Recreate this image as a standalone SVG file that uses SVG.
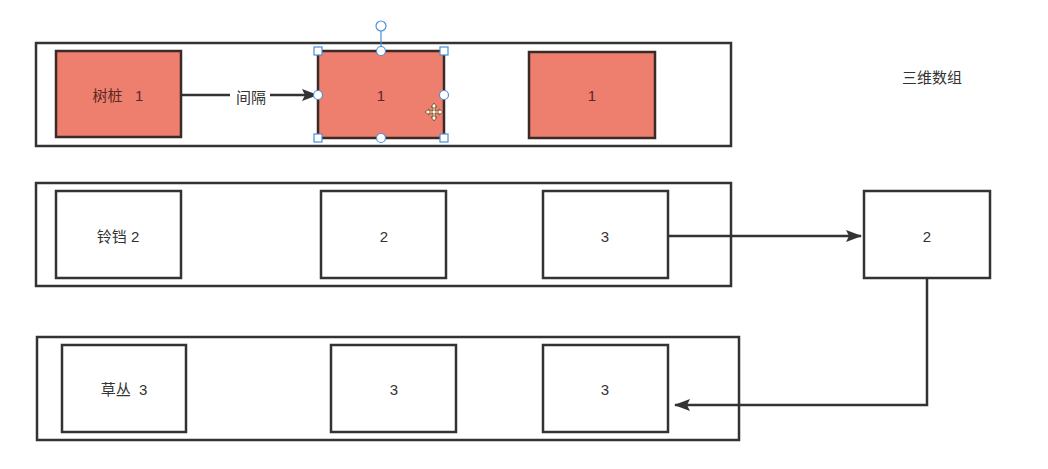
<svg xmlns="http://www.w3.org/2000/svg" width="1048" height="469" viewBox="0 0 1048 469">
<defs>
<style>
.cont{fill:#fff;stroke:#333;stroke-width:2.5}
.box{fill:#fff;stroke:#333;stroke-width:2.5}
.red{fill:#ee7e6e;stroke:#3a2a28;stroke-width:2.5}
.t{font-family:"Liberation Sans","Noto Sans CJK SC",sans-serif;font-size:15px;fill:#333;text-anchor:middle;dominant-baseline:central;white-space:pre}
.tr{fill:#5a2a24}
.edge{fill:none;stroke:#333;stroke-width:2.5}
.hs{fill:#fff;stroke:#4a90d9;stroke-width:1.2}
</style>
<marker id="ah" markerWidth="16" markerHeight="12" refX="15" refY="6" orient="auto" markerUnits="userSpaceOnUse" viewBox="0 0 16 12">
<path d="M0,0 L16,6 L0,12 L3,6 Z" fill="#333"/>
</marker>
</defs>
<rect width="1048" height="469" fill="#fff"/>
<g id="containers">
<rect id="row1" class="cont" x="36" y="43" width="695" height="103"/>
<rect id="row2" class="cont" x="36" y="183" width="695" height="103"/>
<rect id="row3" class="cont" x="37" y="337" width="702" height="103"/>
</g>
<g id="connectors">
<path class="edge" d="M181,95 H317" marker-end="url(#ah)"/>
<rect x="230" y="86" width="40" height="20" fill="#fff"/>
<text class="t" x="251" y="97">间隔</text>
<path class="edge" d="M668,236 H861" marker-end="url(#ah)"/>
<path class="edge" d="M927,279 V405 H675" marker-end="url(#ah)"/>
</g>
<g id="n-shuzhuang"><rect class="red" x="56" y="51" width="125" height="86"/><text class="t tr" x="118" y="95" xml:space="preserve">树桩   1</text></g>
<g id="n-r1c2"><rect class="red" x="318" y="51" width="126" height="87"/><text class="t tr" x="381" y="95">1</text></g>
<g id="n-r1c3"><rect class="red" x="529" y="52" width="126" height="86"/><text class="t tr" x="592" y="95">1</text></g>
<g id="selection">
<line x1="381" y1="31" x2="381" y2="51" stroke="#4a90d9" stroke-width="1.2"/>
<circle class="hs" cx="381" cy="26" r="5"/>
<rect class="hs" x="314" y="47" width="8" height="8"/>
<rect class="hs" x="440" y="47" width="8" height="8"/>
<rect class="hs" x="314" y="134" width="8" height="8"/>
<rect class="hs" x="440" y="134" width="8" height="8"/>
<circle class="hs" cx="381" cy="51" r="4.5"/>
<circle class="hs" cx="381" cy="138" r="4.5"/>
<circle class="hs" cx="318" cy="95" r="4.5"/>
<circle class="hs" cx="444" cy="95" r="4.5"/>
<g transform="translate(434,112)" fill="#fff" stroke="#7a5a2a" stroke-width="1">
<path d="M0,-9 L3,-5 L1,-5 L1,-1 L5,-1 L5,-3 L9,0 L5,3 L5,1 L1,1 L1,5 L3,5 L0,9 L-3,5 L-1,5 L-1,1 L-5,1 L-5,3 L-9,0 L-5,-3 L-5,-1 L-1,-1 L-1,-5 L-3,-5 Z"/>
</g>
</g>
<g id="n-lingdang"><rect class="box" x="56" y="191" width="125" height="87"/><text class="t" x="118" y="236">铃铛 2</text></g>
<g id="n-r2c2"><rect class="box" x="321" y="191" width="125" height="87"/><text class="t" x="384" y="236">2</text></g>
<g id="n-r2c3"><rect class="box" x="543" y="191" width="125" height="87"/><text class="t" x="605" y="236">3</text></g>
<g id="n-ext"><rect class="box" x="864" y="191" width="126" height="87"/><text class="t" x="927" y="236">2</text></g>
<g id="n-caocong"><rect class="box" x="62" y="345" width="124" height="87"/><text class="t" x="124" y="389" xml:space="preserve">草丛  3</text></g>
<g id="n-r3c2"><rect class="box" x="331" y="345" width="125" height="87"/><text class="t" x="394" y="389">3</text></g>
<g id="n-r3c3"><rect class="box" x="543" y="345" width="125" height="87"/><text class="t" x="605" y="389">3</text></g>
<g id="title"><text class="t" x="932" y="77">三维数组</text></g>
</svg>
